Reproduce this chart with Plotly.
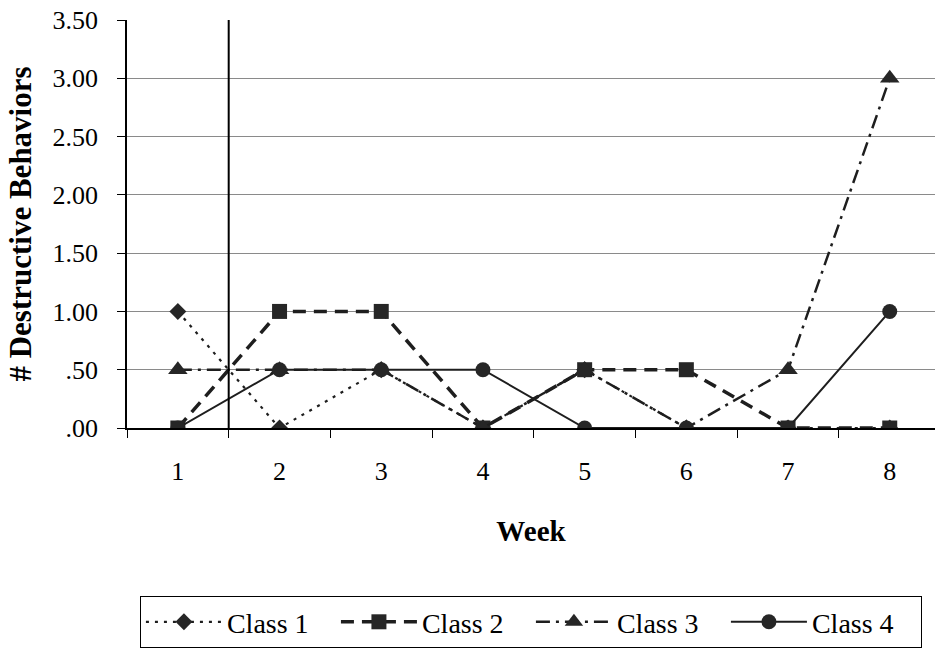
import plotly.graph_objects as go

# Weekly counts of destructive behaviors for each class
weeks = ["1", "2", "3", "4", "5", "6", "7", "8"]
class_1 = [1.0, 0.0, 0.5, 0.0, 0.5, 0.0, 0.0, 0.0]
class_2 = [0.0, 1.0, 1.0, 0.0, 0.5, 0.5, 0.0, 0.0]
class_3 = [0.5, 0.5, 0.5, 0.0, 0.5, 0.0, 0.5, 3.0]
class_4 = [0.0, 0.5, 0.5, 0.5, 0.0, 0.0, 0.0, 1.0]

y_tick_vals = [0.0, 0.5, 1.0, 1.5, 2.0, 2.5, 3.0, 3.5]
y_tick_text = [".00", ".50", "1.00", "1.50", "2.00", "2.50", "3.00", "3.50"]

SERIF = "'Times New Roman', 'Liberation Serif', serif"
INK = "#1e1e1e"

series = [
    ("Class 1", class_1, "3px,6px", 2.2, "diamond", 13),
    ("Class 2", class_2, "13px,8px", 3.5, "square", 15),
    ("Class 3", class_3, "14px,6px,3px,6px", 2.5, "triangle-up", 17),
    ("Class 4", class_4, "solid", 2.0, "circle", 15),
]

fig = go.Figure()
for name, values, dash, width, symbol, size in series:
    fig.add_trace(go.Scatter(
        x=weeks, y=values, name=name, mode="lines+markers",
        line=dict(color=INK, width=width, dash=dash),
        marker=dict(symbol=symbol, size=size, color="#262626",
                    line=dict(width=0)),
    ))

# Phase-change line between week 1 and week 2
fig.add_shape(type="line", xref="x", yref="paper", x0=0.5, x1=0.5,
              y0=0, y1=1, line=dict(color="black", width=2))

fig.update_layout(
    width=935, height=649,
    margin=dict(l=127, r=0, t=20, b=221, autoexpand=False),
    paper_bgcolor="white", plot_bgcolor="white",
    font=dict(family=SERIF, color="black"),
    showlegend=True,
    legend=dict(
        orientation="h", x=0.016, xanchor="left", y=-0.412, yanchor="top",
        bordercolor="black", borderwidth=1, bgcolor="white",
        font=dict(family=SERIF, size=28, color="black"),
        itemwidth=76,
        entrywidth=104, entrywidthmode="pixels",
    ),
)

fig.update_xaxes(
    type="category", range=[-0.5, 7.445],
    showline=True, linecolor="black", linewidth=1.5,
    ticks="outside", tickson="boundaries", ticklen=8, tickcolor="black",
    showgrid=False, zeroline=False,
    tickfont=dict(family=SERIF, size=26, color="black"),
    ticklabelstandoff=19,
    title=dict(text="Week", standoff=36,
               font=dict(family=SERIF, size=29, weight="bold", color="black")),
)

fig.update_yaxes(
    range=[0, 3.5], tickvals=y_tick_vals, ticktext=y_tick_text,
    showline=True, linecolor="black", linewidth=1.5,
    ticks="outside", ticklen=8, tickcolor="black",
    showgrid=True, gridcolor="#8a8a8a", gridwidth=1, zeroline=False,
    tickfont=dict(family=SERIF, size=26, color="black"),
    ticklabelstandoff=14,
    title=dict(text="# Destructive Behaviors", standoff=12,
               font=dict(family=SERIF, size=31, weight="bold", color="black")),
)

fig.write_html("out.html")
